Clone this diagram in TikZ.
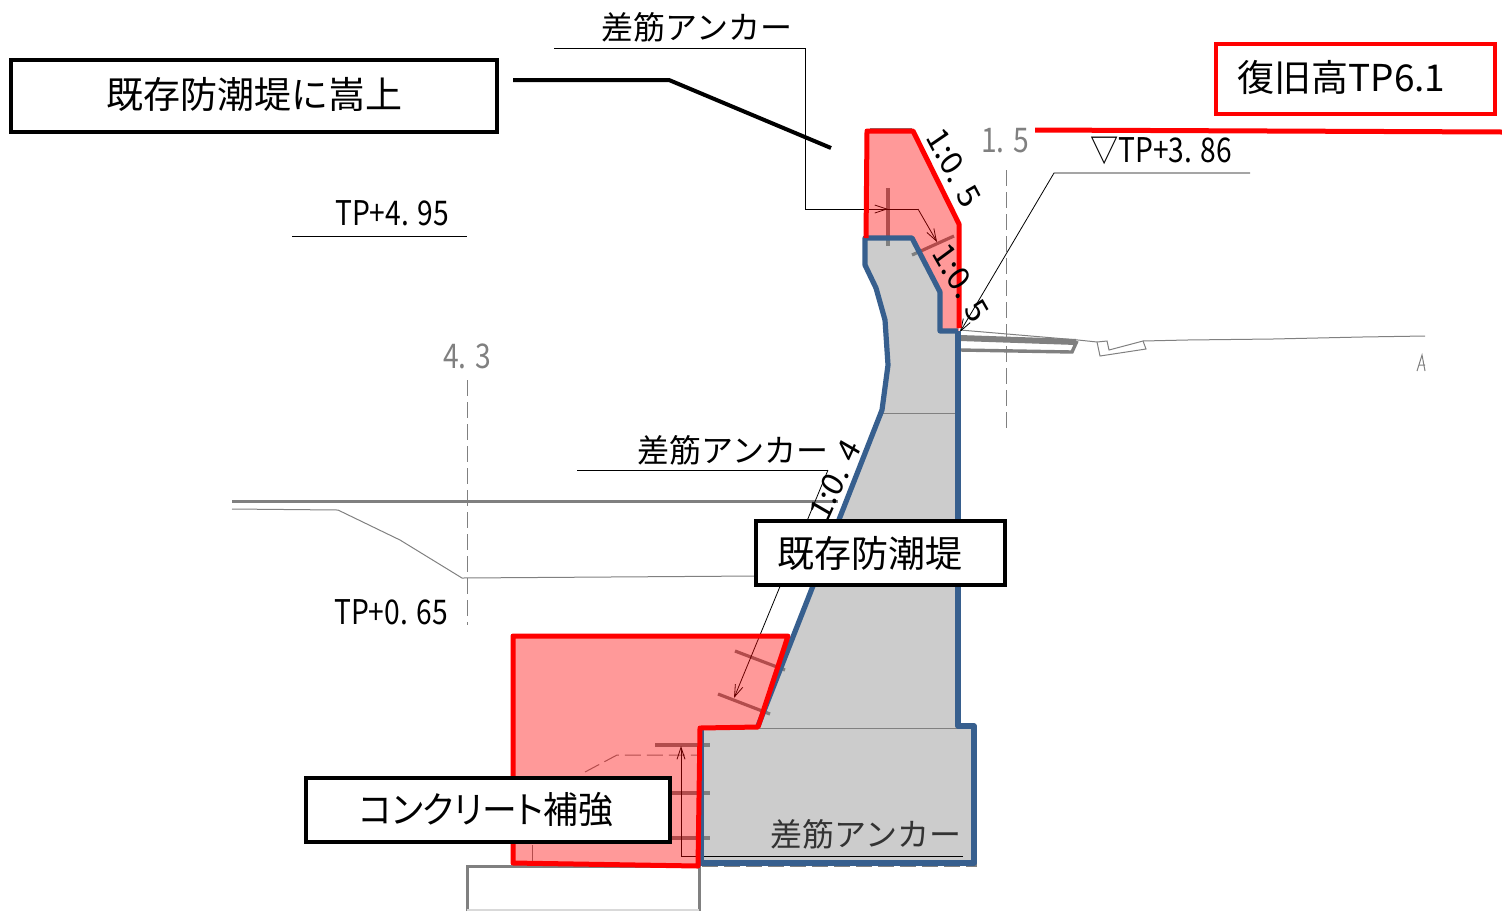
\documentclass[tikz,border=0pt]{standalone}
\usepackage{fontspec}
\setmainfont{Noto Sans CJK JP}
\usetikzlibrary{arrows.meta}
\definecolor{wallblue}{HTML}{375F8E}
\definecolor{wallgray}{HTML}{CCCCCC}
\definecolor{dimgray}{HTML}{808080}
\definecolor{pure}{HTML}{FF0000}
\tikzset{
  x=0.5pt,y=-0.5pt,
  boxlabel/.style={draw=black,line width=2pt,fill=white,inner sep=0pt,font=\fontsize{18.5}{20}\selectfont,anchor=center},
  dimtext/.style={inner sep=0pt,font=\fontsize{17}{19}\selectfont,xscale=.83,transform shape},
  slopetext/.style={inner sep=0pt,font=\fontsize{17}{19}\selectfont,xscale=.88,transform shape},
  anchortext/.style={inner sep=0pt,font=\fontsize{16}{18}\selectfont},
  grayline/.style={draw=dimgray,line width=.5pt},
  heavygray/.style={draw=dimgray,line width=1.5pt},
  dowel/.style={draw=dimgray,line width=1.6pt},
  leader/.style={draw=black,line width=.4pt},
  leaderarrow/.style={leader,-{Straight Barb[length=6pt,width=4pt]}},
  dashgray/.style={draw=dimgray,line width=.5pt,dash pattern=on 8pt off 3pt},
  redline/.style={draw=pure,line width=2.5pt,line join=round},
  blueline/.style={draw=wallblue,line width=2.6pt,line join=round},
  redfill/.style={fill=pure,fill opacity=.4},
}
\begin{document}
\begin{tikzpicture}
\useasboundingbox (0,0) rectangle (1502,911);
% wall body
\fill[wallgray] (866,238) -- (912,238) -- (940,292) -- (940,331) -- (958,331) -- (958,726) -- (974,726) -- (974,863) -- (700,863) -- (700,728) -- (758,726) -- (882,410) -- (888,365) -- (885,320) -- (876,288) -- (865,265) -- cycle;
\draw[grayline] (702,728) -- (958,728);
\draw[grayline,line width=.3pt] (882,413) -- (958,413);
% ground lines
\draw[heavygray] (232,501) -- (838,501);
\draw[grayline] (232,509) -- (338,510) -- (400,540) -- (462,578) -- (756,576);
\draw[dashgray] (467,380) -- (467,625);
\draw[dashgray] (1006,170) -- (1006,432);
\draw[grayline] (960,330) -- (1078,340) -- (1097,342) -- (1100,356) -- (1146,349) -- (1143,341) -- (1109,350) -- (1107,341) -- (1097,342);
\draw[grayline] (1143,341) -- (1187,340) -- (1273,339) -- (1362,337) -- (1425,336);
\draw[draw=dimgray,line width=3pt] (960,338) -- (1076,342);
\draw[draw=dimgray,line width=1.7pt] (1077,341) -- (1072,352) -- (960,350);
\draw[grayline] (1417,371) -- (1422,355) -- (1425,371) (1419,365) -- (1425,365);
% foundation below
\draw[heavygray] (467,911) -- (467,866) -- (699,866) -- (699,911);
\draw[draw=dimgray!30,line width=.6pt] (467,910) -- (699,910);
\draw[draw=dimgray,line width=.7pt] (870,129) -- (912,129);
\draw[dashgray,line width=1pt] (702,866) -- (976,866) -- (976,730);
% inner details
\draw[dashgray] (585,772) -- (617,755) -- (700,755);
\draw[dashgray] (532,845) -- (532,864);
\draw[dowel] (888,188) -- (888,246);
\draw[dowel] (912,255) -- (954,236);
\draw[dowel] (735,651) -- (785,670);
\draw[dowel] (718,694) -- (770,714);
\draw[dowel] (655,745) -- (710,745);
\draw[dowel] (670,793) -- (710,793);
\draw[dowel] (670,838) -- (710,838);
% leader coordinates
\coordinate (a1) at (554,48);
\coordinate (a2) at (805,48);
\coordinate (a3) at (805,209);
\coordinate (a4) at (888,209);
\coordinate (a5) at (918,209);
\coordinate (a6) at (937,242);
\coordinate (b1) at (577,470);
\coordinate (b2) at (828,470);
\coordinate (b3) at (734,698);
\coordinate (c1) at (963,856);
\coordinate (c2) at (681,856);
\coordinate (c3) at (681,746);
\coordinate (d1) at (1250,173);
\coordinate (d2) at (1054,173);
\coordinate (d3) at (960,332);
\coordinate (e1) at (292,236);
\coordinate (e2) at (467,236);
\draw[leader] (a1) -- (a2) -- (a3) -- (a4);
\draw[leaderarrow] (a3) -- (a4);
\draw[leader] (a4) -- (a5);
\draw[leaderarrow] (a5) -- (a6);
\draw[leader] (b1) -- (b2);
\draw[leaderarrow] (b2) -- (b3);
\draw[leader] (c1) -- (c2);
\draw[leaderarrow] (c2) -- (c3);
\draw[leaderarrow] (d1) -- (d2) -- (d3);
\draw[leader] (e1) -- (e2);
% reinforcement fills
\fill[redfill] (867,131) -- (913,131) -- (959,224) -- (959,331) -- (940,331) -- (940,292) -- (912,238) -- (866,238) -- cycle;
\fill[redfill] (513,636) -- (788,636) -- (758,727) -- (702,728) -- (699,866) -- (513,863) -- cycle;
% outlines
\draw[blueline] (700,863) -- (974,863) -- (974,726) -- (958,726) -- (958,331);
\draw[blueline] (701,728) -- (701,863);
\draw[blueline] (758,726) -- (882,410) -- (888,365) -- (885,320) -- (876,288) -- (865,265) -- (865,238) -- (912,238) -- (940,292) -- (940,331) -- (958,331);
\draw[redline] (866,238) -- (867,131) -- (913,131) -- (959,224) -- (959,328);
\draw[redline] (513,636) -- (788,636) -- (758,727) -- (700,728) -- (698,866) -- (513,863) -- cycle;
\draw[redline] (1035,130) -- (1502,132);
% labels
\node[boxlabel,minimum width=243pt,minimum height=36pt] (n1) at (254,96) {\raisebox{3pt}{既存防潮堤に嵩上}};
\coordinate (f1) at (513,80);
\coordinate (f2) at (669,80);
\coordinate (f3) at (831,148);
\draw[draw=black,line width=2pt] (f1) -- (f2) -- (f3);
\node[boxlabel,minimum width=124.5pt,minimum height=32pt] (n2) at (880.5,553) {既存防潮堤\hspace*{11pt}\mbox{}};
\node[boxlabel,minimum width=182pt,minimum height=32pt] (n3) at (488,810) {\raisebox{-3pt}{\scalebox{.94}[1]{\addfontfeatures{RawFeature=+palt}コンクリート補強}}\hspace*{2pt}\mbox{}};
\node[boxlabel,fill=none,draw=pure,minimum width=139.5pt,minimum height=35pt] (n4) at (1355.5,79) {\raisebox{3pt}{復旧高TP6.1}\hspace*{14pt}\mbox{}};
\node[anchortext] (t1) at (697,27) {差筋アンカー};
\node[anchortext] (t2) at (733,450) {差筋アンカー};
\node[anchortext,text=black!80] (t3) at (866,834) {差筋アンカー};
\node[dimtext] (t4) at (392,213) {TP+4. 95};
\node[dimtext] (t5) at (391,612) {TP+0. 65};
\node[dimtext] (t6) at (1161,151) {▽TP+3. 86};
\node[dimtext,text=dimgray] (t7) at (467,356) {4. 3};
\node[dimtext,text=dimgray] (t8) at (1005,141) {1. 5};
\node[slopetext,rotate=-59] (t9) at (954,168) {1:0. 5};
\node[slopetext,rotate=-57] (t10) at (961,283) {1:0. 5};
\node[slopetext,rotate=63] (t11) at (835,480) {1:0. 4};
\end{tikzpicture}
\end{document}
